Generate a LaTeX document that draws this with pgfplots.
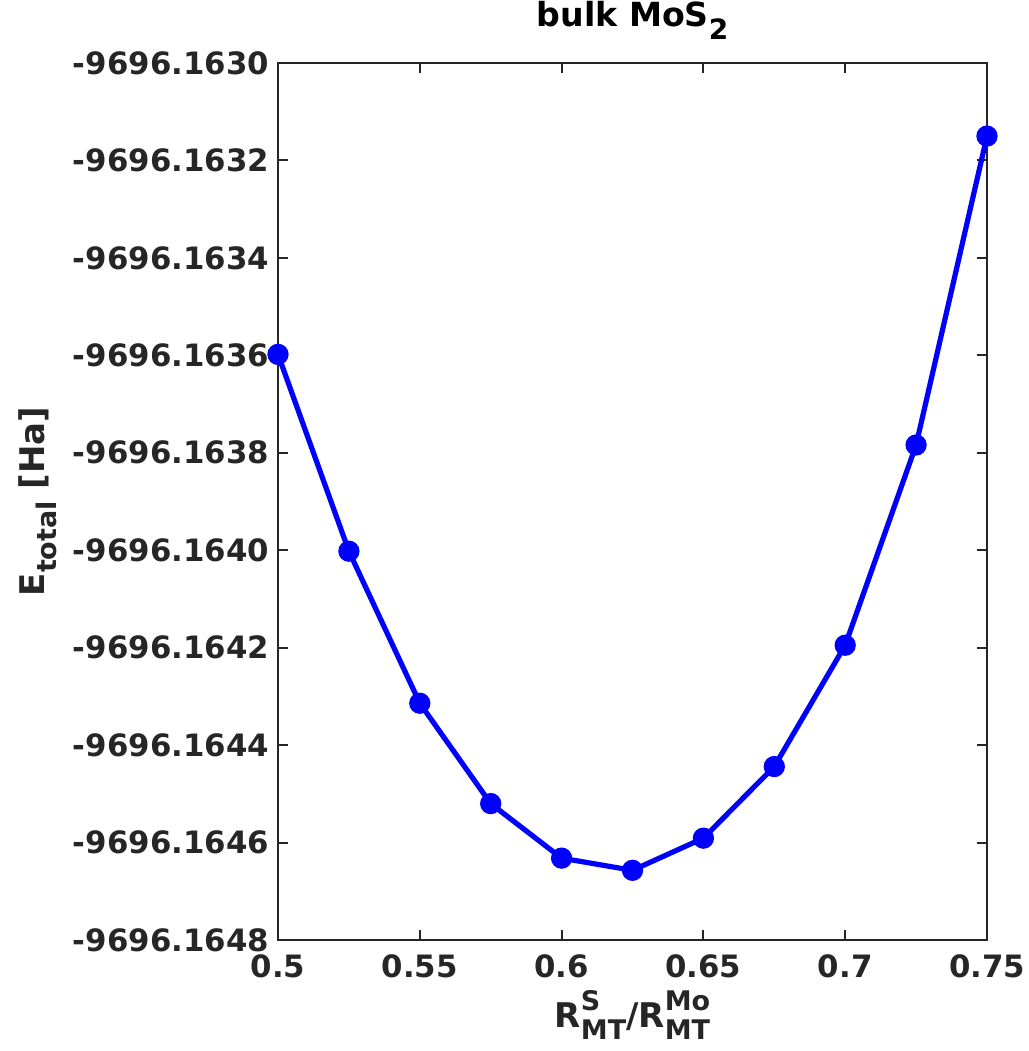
\documentclass[border=0pt]{standalone}
\usepackage{fontspec}
\setmainfont{DejaVu Sans}
\usepackage{pgfplots}
\pgfplotsset{compat=1.18}
\definecolor{axgray}{RGB}{38,38,38}
\newcommand\supsub[2]{{\fontsize{13.5pt}{13.5pt}\selectfont\ooalign{\raisebox{0.62em}{#1}\cr\raisebox{-0.42em}{#2}\cr}}}
\newcommand\sub[1]{{\fontsize{13.5pt}{13.5pt}\selectfont\raisebox{-0.42em}{#1}}}
\begin{document}
\begin{tikzpicture}
\begin{axis}[
  scale only axis,
  width=354.5pt, height=438.5pt,
  xmin=0.5, xmax=0.75, ymin=-4.8, ymax=-3.0,
  xtick={0.5,0.55,0.6,0.65,0.7,0.75},
  xticklabels={0.5,0.55,0.6,0.65,0.7,0.75},
  ytick={-4.8,-4.6,-4.4,-4.2,-4.0,-3.8,-3.6,-3.4,-3.2,-3.0},
  yticklabels={-9696.1648,-9696.1646,-9696.1644,-9696.1642,-9696.1640,-9696.1638,-9696.1636,-9696.1634,-9696.1632,-9696.1630},
  /pgf/number format/assume math mode=true,
  tick align=inside,
  major tick length=5pt,
  axis line style={axgray, line width=1pt},
  every tick/.style={axgray, line width=1pt},
  tick label style={font=\fontsize{15.4pt}{18pt}\selectfont\bfseries, text=axgray},
  xticklabel style={yshift=-4pt},
  yticklabel style={xshift=-1pt},
  title={\bfseries bulk MoS{\fontsize{14pt}{14pt}\selectfont\raisebox{-0.45em}{2}}},
  title style={font=\fontsize{16.6pt}{19pt}\selectfont, at={(rel axis cs:0.5,1)}, anchor=base, yshift=12pt},
  xlabel={\bfseries R\supsub{S}{MT}/R\supsub{Mo}{MT}},
  xlabel style={font=\fontsize{17pt}{20pt}\selectfont\bfseries, text=axgray, at={(rel axis cs:0.5,0)}, anchor=center, yshift=-37.5pt},
  ylabel={\bfseries E\sub{total} [Ha]},
  ylabel style={font=\fontsize{17pt}{20pt}\selectfont\bfseries, text=axgray, at={([xshift=-116.5pt]rel axis cs:0,0.5)}, rotate=0, anchor=base},
  clip=false,
]
\addplot[blue, line width=2.6pt, mark=*, mark size=4pt, mark options={fill=blue, draw=blue}] coordinates {
  (0.500,-3.598)
  (0.525,-4.002)
  (0.550,-4.314)
  (0.575,-4.520)
  (0.600,-4.632)
  (0.625,-4.657)
  (0.650,-4.591)
  (0.675,-4.444)
  (0.700,-4.195)
  (0.725,-3.784)
  (0.750,-3.150)
};
\end{axis}
\pgfresetboundingbox
\path ([xshift=-139pt,yshift=-55.5pt]current axis.south west) rectangle ([xshift=21pt,yshift=31.5pt]current axis.north east);
\end{tikzpicture}
\end{document}
